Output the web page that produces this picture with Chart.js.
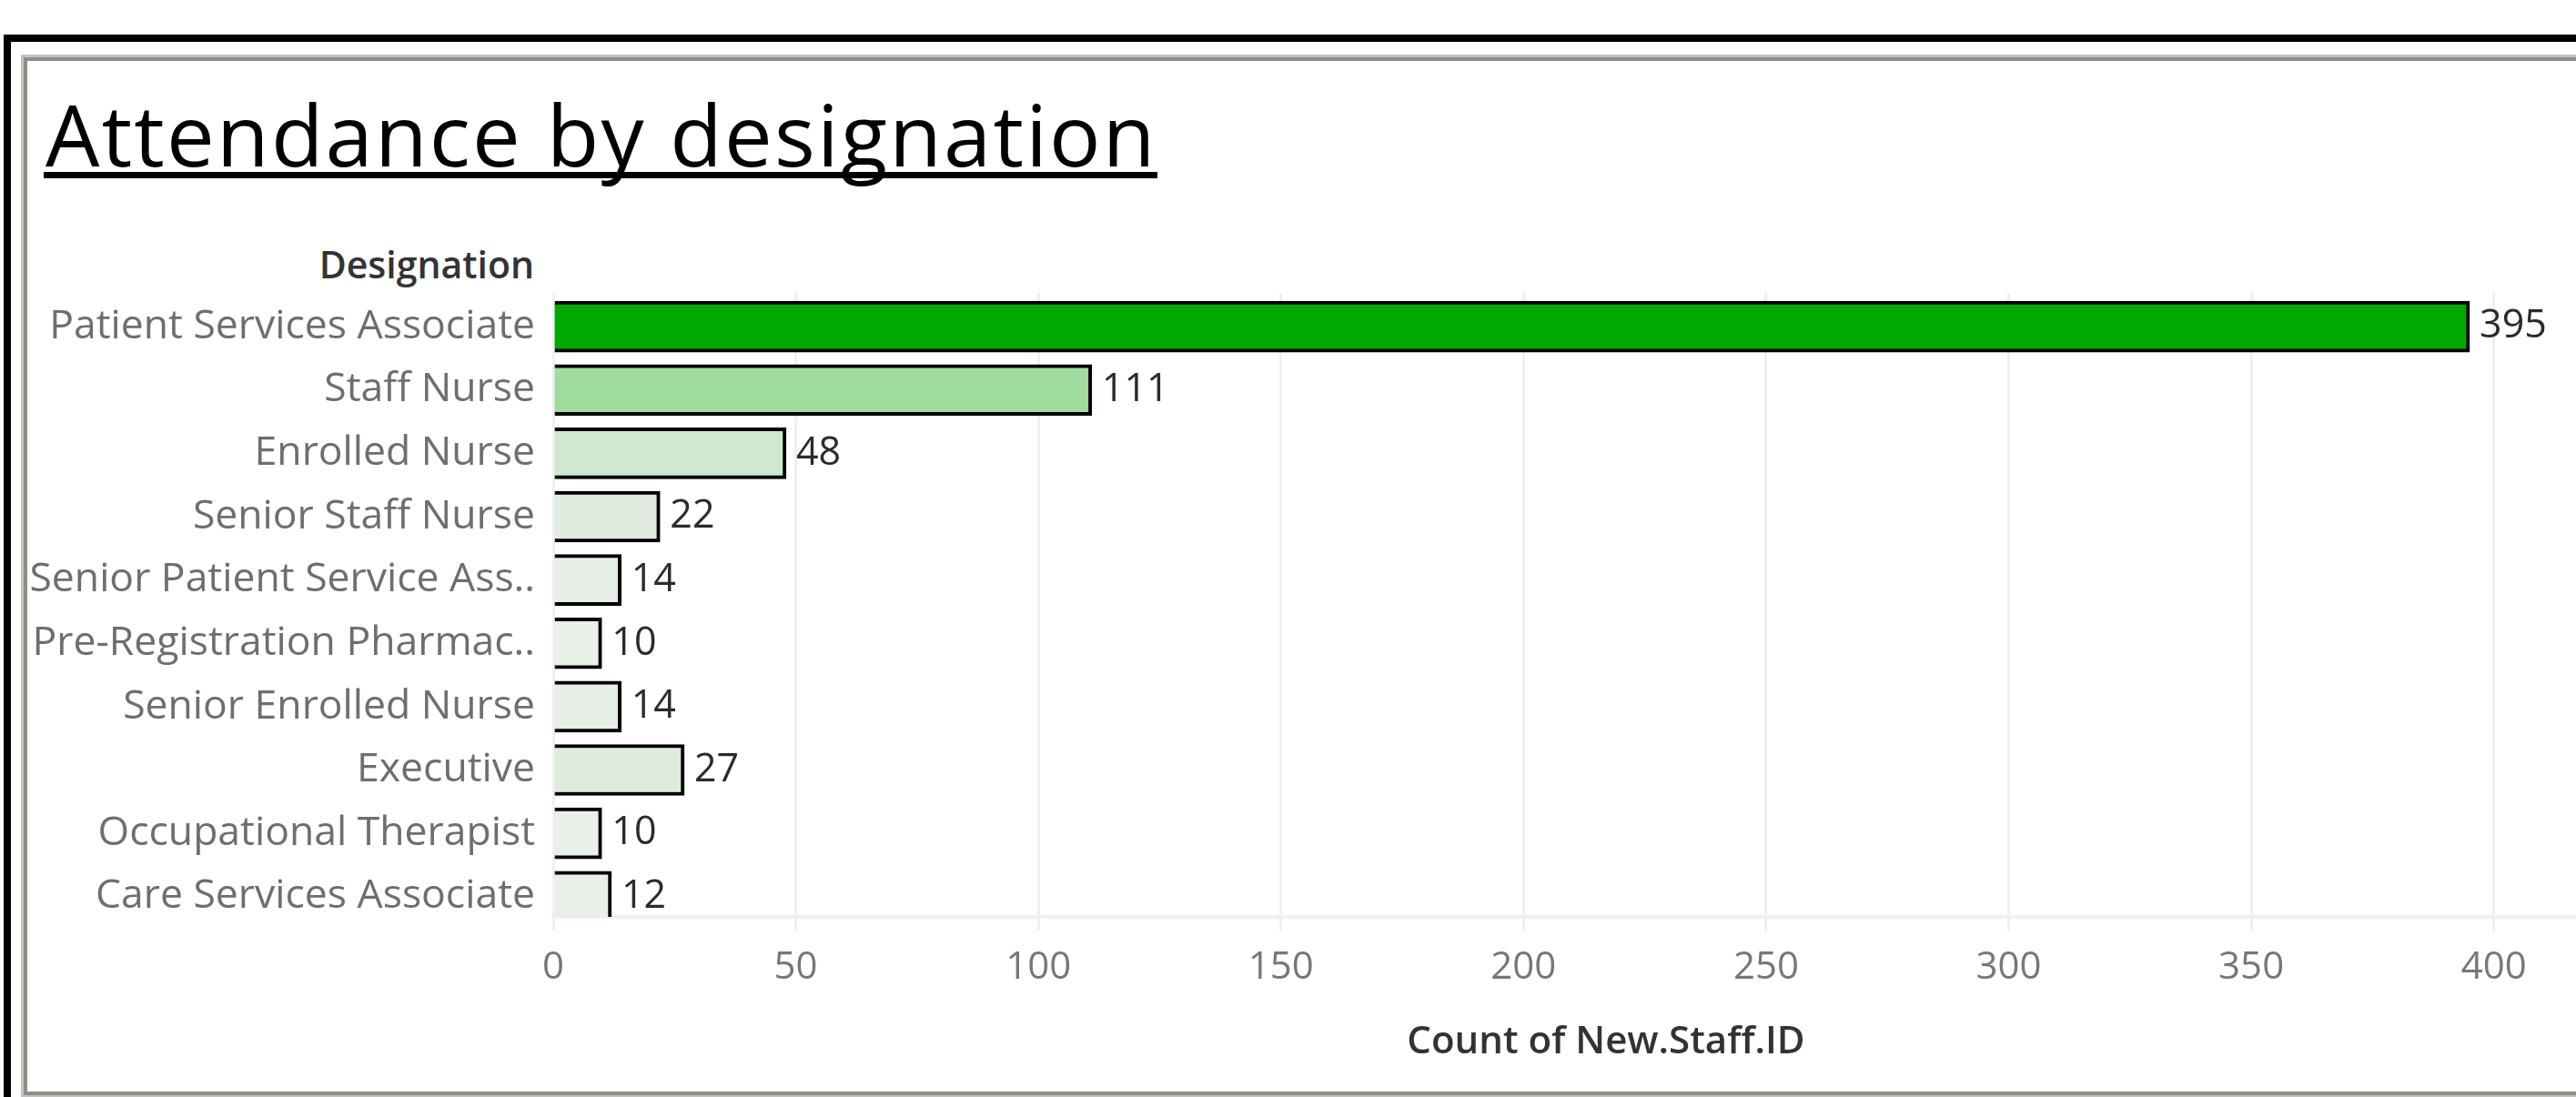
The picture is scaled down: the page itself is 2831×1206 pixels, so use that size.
<!DOCTYPE html>
<html>
<head>
<meta charset="utf-8">
<script src="https://cdn.jsdelivr.net/npm/chart.js@4.4.1/dist/chart.umd.min.js"></script>
<style>
  html, body { margin: 0; padding: 0; background: #fff; }
  body { width: 2831px; height: 1206px; overflow: hidden; position: relative; font-family: "Open Sans", sans-serif; }
  #frame { position: absolute; left: 4px; top: 38px; width: 3100px; height: 1300px; border: 8px solid #000; box-sizing: border-box; }
  #panel { position: absolute; left: 23px; top: 60px; width: 3100px; height: 1147px; border: 3px solid #c2c2c2; box-shadow: inset 0 0 0 4px #8e8e86; box-sizing: border-box; }
  #title { position: absolute; left: 48px; top: 106px; font-size: 94px; line-height: 83px; letter-spacing: 2.2px; color: #000; white-space: nowrap; }
  #title span { display: inline-block; border-bottom: 7px solid #000; padding-left: 2px; }
  #header { position: absolute; left: 0; top: 270px; width: 587px; text-align: right; font-size: 41px; line-height: 41px; font-weight: 600; color: #333; }
  #wrap { position: absolute; left: 0; top: 0; width: 2940px; height: 1206px; }
</style>
</head>
<body>
<div id="frame"></div>
<div id="panel"></div>
<div id="title"><span>Attendance by designation</span></div>
<div id="header">Designation</div>
<div id="wrap"><canvas id="chart"></canvas></div>
<script>
// values
var designations = [
  "Patient Services Associate",
  "Staff Nurse",
  "Enrolled Nurse",
  "Senior Staff Nurse",
  "Senior Patient Service Ass..",
  "Pre-Registration Pharmac..",
  "Senior Enrolled Nurse",
  "Executive",
  "Occupational Therapist",
  "Care Services Associate"
];
var counts = [395, 111, 48, 22, 14, 10, 14, 27, 10, 12];
var barColors = ["#00a800", "#a1dc9f", "#cfe8cf", "#e1ece0", "#e6eee6", "#e8f0e8", "#e6eee6", "#dfebdd", "#e8f0e8", "#e7efe7"];
var xTicks = [0, 50, 100, 150, 200, 250, 300, 350, 400];
var xTitle = "Count of New.Staff.ID";

Chart.defaults.font.family = "'Open Sans', sans-serif";

// value labels to the right of each bar
var barLabels = {
    id: "barLabels",
    afterDatasetsDraw: function (chart) {
        var ctx = chart.ctx;
        ctx.save();
        ctx.font = "43px 'Open Sans'";
        ctx.fillStyle = "#2b2b2b";
        ctx.textAlign = "left";
        ctx.textBaseline = "middle";
        chart.getDatasetMeta(0).data.forEach(function (bar, i) {
            ctx.fillText(String(counts[i]), bar.x + 11, bar.y);
        });
        ctx.restore();
    }
};

var ctx = document.getElementById("chart").getContext("2d");
var myChart = new Chart(ctx, {
    type: "bar",
    data: {
        datasets: [{
            data: counts.map(function (v, i) { return { x: v, y: i }; }),
            backgroundColor: barColors,
            borderColor: "#000",
            borderWidth: 4,
            borderSkipped: "start",
            barThickness: 56,
            clip: 0
        }]
    },
    options: {
        indexAxis: "y",
        responsive: true,
        maintainAspectRatio: false,
        animation: false,
        layout: { padding: { top: 322, right: 18, bottom: 0, left: 0 } },
        plugins: {
            legend: { display: false },
            tooltip: { enabled: false }
        },
        scales: {
            x: {
                type: "linear",
                position: "bottom",
                min: 0,
                max: 434,
                afterBuildTicks: function (scale) {
                    scale.ticks = xTicks.map(function (v) { return { value: v }; });
                },
                afterFit: function (scale) { scale.height = 198; },
                grid: { color: "#f0f0f0", lineWidth: 3, tickLength: 15, drawTicks: true },
                border: { display: true, color: "#f0f0f0", width: 4 },
                ticks: { color: "#777", font: { size: 42, lineHeight: 1 }, padding: 20, maxRotation: 0, autoSkip: false },
                title: {
                    display: true,
                    text: xTitle,
                    color: "#333",
                    font: { size: 42, weight: "600", lineHeight: 1 },
                    padding: { top: 0, bottom: 39 }
                }
            },
            y: {
                type: "linear",
                reverse: true,
                offset: false,
                min: -0.534,
                max: 9.32,
                afterBuildTicks: function (scale) {
                    scale.ticks = designations.map(function (d, i) { return { value: i }; });
                },
                afterFit: function (scale) { scale.width = 608; },
                grid: { display: false, drawTicks: false },
                border: { display: false },
                ticks: {
                    color: "#6e6e6e",
                    font: { size: 44.5, lineHeight: 1 },
                    padding: 20,
                    autoSkip: false,
                    callback: function (value) { return designations[value]; }
                }
            }
        }
    },
    plugins: [barLabels]
});
</script>
</body>
</html>
